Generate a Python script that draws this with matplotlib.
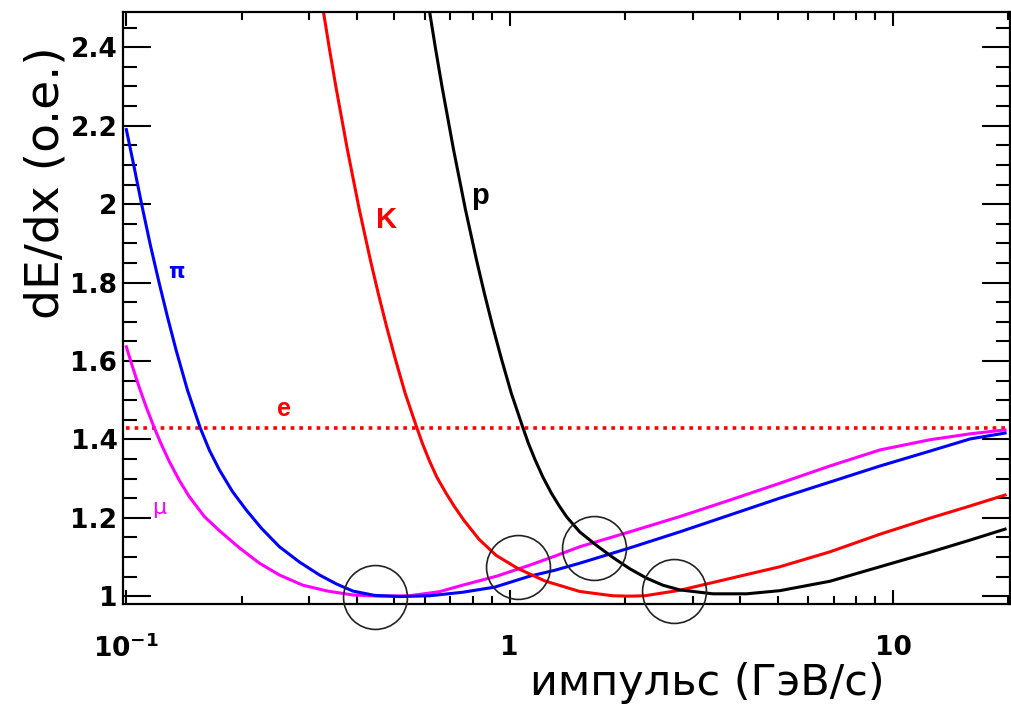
import matplotlib
matplotlib.use("Agg")
import matplotlib.pyplot as plt
from matplotlib.ticker import FixedLocator, FixedFormatter, MultipleLocator, NullFormatter

# ---- data (momentum in GeV/c, dE/dx in relative units) ----
mu_p = [0.100, 0.1036, 0.1081, 0.1128, 0.1183, 0.1234, 0.1295, 0.1375, 0.1461, 0.1598,
        0.1749, 0.1973, 0.2225, 0.2508, 0.2886, 0.3348, 0.3899, 0.4576, 0.5483, 0.6565,
        0.7539, 0.9248, 1.128, 1.311, 1.523, 2.057, 2.779, 3.753, 5.069, 6.847, 9.249,
        12.49, 15.89, 19.61]
mu_dedx = [1.636, 1.587, 1.532, 1.481, 1.429, 1.387, 1.343, 1.295, 1.253, 1.203,
           1.167, 1.123, 1.084, 1.054, 1.028, 1.013, 1.003, 1.000, 1.001, 1.0115,
           1.028, 1.051, 1.079, 1.102, 1.126, 1.164, 1.203, 1.245, 1.288, 1.332, 1.373,
           1.399, 1.414, 1.424]

pi_p = [0.100, 0.1047, 0.1098, 0.1156, 0.1217, 0.1282, 0.1347, 0.1443, 0.1560, 0.1647,
        0.1749, 0.1891, 0.2054, 0.2252, 0.2508, 0.2829, 0.3191, 0.3534, 0.3899, 0.4441,
        0.5162, 0.6183, 0.7539, 0.9137, 1.128, 1.311, 1.523, 2.057, 2.779, 3.753, 5.069,
        6.847, 9.249, 12.49, 15.89, 19.61]
pi_dedx = [2.19, 2.096, 1.996, 1.894, 1.800, 1.710, 1.629, 1.526, 1.428, 1.372,
           1.322, 1.267, 1.220, 1.173, 1.126, 1.087, 1.054, 1.031, 1.013, 1.002,
           0.999, 1.001, 1.010, 1.023, 1.051, 1.066, 1.084, 1.123, 1.164, 1.207, 1.250,
           1.291, 1.332, 1.370, 1.401, 1.416]

k_p = [0.3268, 0.3388, 0.3520, 0.3771, 0.4053, 0.4330, 0.4539, 0.4773, 0.5038, 0.5336,
       0.5710, 0.5918, 0.6164, 0.6461, 0.683, 0.716, 0.759, 0.832, 0.922, 1.049, 1.234,
       1.523, 1.857, 2.05, 2.252, 2.779, 3.753, 5.069, 6.847, 9.249, 12.49, 15.89, 19.61]
k_dedx = [2.49, 2.395, 2.30, 2.14, 1.986, 1.858, 1.773, 1.688, 1.603, 1.518,
          1.433, 1.390, 1.347, 1.303, 1.262, 1.230, 1.194, 1.145, 1.104, 1.071, 1.039,
          1.012, 1.001, 1.000, 1.001, 1.015, 1.045, 1.075, 1.113, 1.158, 1.199, 1.230, 1.258]

p_p = [0.6183, 0.6410, 0.6660, 0.7135, 0.7668, 0.8192, 0.8588, 0.9031, 0.9532, 1.0096,
       1.080, 1.119, 1.166, 1.222, 1.286, 1.347, 1.409, 1.523, 1.677, 1.857, 2.057,
       2.275, 2.509, 2.779, 3.389, 4.150, 5.069, 6.847, 9.249, 12.49, 15.89, 19.61]
p_dedx = [2.49, 2.395, 2.30, 2.14, 1.986, 1.858, 1.773, 1.688, 1.603, 1.518,
          1.433, 1.390, 1.347, 1.303, 1.262, 1.230, 1.202, 1.164, 1.131, 1.099, 1.070,
          1.046, 1.028, 1.016, 1.006, 1.006, 1.014, 1.038, 1.075, 1.112, 1.143, 1.171]

e_p = [0.100, 19.8]
e_dedx = [1.43, 1.43]

circle_p = [0.444, 1.049, 1.657, 2.68]
circle_dedx = [0.997, 1.074, 1.123, 1.013]

x_ticks = [0.1, 1, 10]
x_ticklabels = ["10$^{\\mathbf{-1}}$", "1", "10"]
y_ticks = [1.0, 1.2, 1.4, 1.6, 1.8, 2.0, 2.2, 2.4]
y_ticklabels = ["1", "1.2", "1.4", "1.6", "1.8", "2", "2.2", "2.4"]

# ---- figure ----
fig = plt.figure(figsize=(10.11, 7.08), dpi=100)
ax = fig.add_axes([123 / 1011, 1 - 604 / 708, (1010 - 123) / 1011, (604 - 12) / 708])
ax.set_xscale("log")
ax.set_xlim(0.098, 20.2)
ax.set_ylim(0.98, 2.49)

lw = 2.2
ax.plot(e_p, e_dedx, color="#ff0000", lw=2.6, linestyle=(0, (1.0, 1.4)))
ax.plot(mu_p, mu_dedx, color="#ff00ff", lw=lw, solid_joinstyle="round")
ax.plot(pi_p, pi_dedx, color="#0000ff", lw=lw, solid_joinstyle="round")
ax.plot(k_p, k_dedx, color="#ff0000", lw=lw, solid_joinstyle="round")
ax.plot(p_p, p_dedx, color="#000000", lw=lw, solid_joinstyle="round")

ax.plot(circle_p, circle_dedx, linestyle="none", marker="o", markersize=46,
        markerfacecolor="none", markeredgecolor="#222222", markeredgewidth=1.2,
        clip_on=False, zorder=5)

# particle labels
ax.text(0.135, 1.828, "π", color="#0000ff", fontsize=15, fontweight="bold",
        ha="center", va="center")
ax.text(0.122, 1.225, "μ", color="#ff00ff", fontsize=16, ha="center", va="center")
ax.text(0.258, 1.478, "e", color="#ff0000", fontsize=18, fontweight="bold",
        family="Liberation Sans", ha="center", va="center")
ax.text(0.478, 1.96, "K", color="#ff0000", fontsize=21, fontweight="bold",
        family="Liberation Sans", ha="center", va="center")
ax.text(0.835, 2.02, "p", color="#000000", fontsize=21, fontweight="bold",
        family="Liberation Sans", ha="center", va="center")

# ticks
ax.xaxis.set_major_locator(FixedLocator(x_ticks))
ax.xaxis.set_major_formatter(FixedFormatter(x_ticklabels))
ax.xaxis.set_minor_locator(FixedLocator([m * 10.0 ** d for d in (-1, 0, 1) for m in range(2, 10)]))
ax.xaxis.set_minor_formatter(NullFormatter())
ax.yaxis.set_major_locator(FixedLocator(y_ticks))
ax.yaxis.set_major_formatter(FixedFormatter(y_ticklabels))
ax.yaxis.set_minor_locator(MultipleLocator(0.05))

ax.tick_params(axis="both", which="both", direction="in", top=True, right=True,
               color="black", width=1.5)
ax.tick_params(axis="y", which="major", length=20, pad=4)
ax.tick_params(axis="y", which="minor", length=10)
ax.tick_params(axis="x", which="major", length=10, pad=22)
ax.tick_params(axis="x", which="minor", length=6)
for lab in ax.get_xticklabels() + ax.get_yticklabels():
    lab.set_fontfamily("DejaVu Sans")
    lab.set_fontweight("bold")
    lab.set_fontsize(19)

for s in ax.spines.values():
    s.set_linewidth(1.6)

fig.text(885 / 1011, 1 - 695 / 708, "импульс (ГэВ/с)", fontsize=31, ha="right",
         va="baseline", family="DejaVu Sans")
fig.text(46 / 1011, 1 - 46 / 708, "dE/dx (o.e.)", fontsize=34, rotation=90,
         ha="center", va="top", family="DejaVu Sans")

fig.savefig("out.png", dpi=100)
